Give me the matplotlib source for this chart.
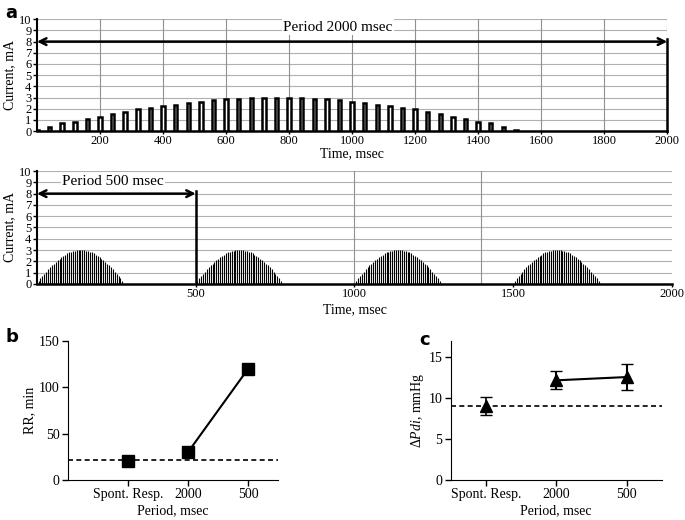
import matplotlib
matplotlib.use("Agg")
import matplotlib.pyplot as plt
import numpy as np

plt.rcParams['font.family'] = ['Liberation Serif', 'DejaVu Serif']
plt.rcParams['mathtext.fontset'] = 'custom'
plt.rcParams['mathtext.rm'] = 'Liberation Serif'
plt.rcParams['mathtext.it'] = 'Liberation Serif:italic'

# ---- data ----
# panel a, top: pulses every 40 ms (period 2000 msec)
top_times = [0, 40, 80, 120, 160, 200, 240, 280, 320, 360, 400, 440, 480, 520, 560, 600,
             640, 680, 720, 760, 800, 840, 880, 920, 960, 1000, 1040, 1080, 1120, 1160,
             1200, 1240, 1280, 1320, 1360, 1400, 1440, 1480, 1520]
top_heights = [0.1, 0.4, 0.7, 0.85, 1.1, 1.3, 1.55, 1.7, 1.95, 2.1, 2.25, 2.35, 2.55, 2.6,
               2.75, 2.85, 2.9, 2.95, 3.0, 3.0, 3.0, 2.95, 2.9, 2.85, 2.75, 2.6, 2.55, 2.35,
               2.25, 2.1, 1.95, 1.7, 1.55, 1.3, 1.1, 0.85, 0.7, 0.4, 0.1]
top_xticks = [200, 400, 600, 800, 1000, 1200, 1400, 1600, 1800, 2000]

# panel a, bottom: bursts every 500 ms, pulses every 6 ms within burst
burst_starts = [0, 500, 1000, 1500]
burst_offsets = [5, 11, 17, 23, 29, 35, 41, 47, 53, 59, 65, 71, 77, 83, 89, 95, 101, 107,
                 113, 119, 125, 131, 137, 143, 149, 155, 161, 167, 173, 179, 185, 191, 197,
                 203, 209, 215, 221, 227, 233, 239, 245, 251, 257, 263, 269]
burst_heights = [0.3, 0.5, 0.7, 0.9, 1.1, 1.3, 1.5, 1.65, 1.8, 1.95, 2.1, 2.25, 2.4, 2.5,
                 2.6, 2.7, 2.8, 2.85, 2.9, 2.95, 3.0, 3.0, 3.0, 3.0, 3.0, 2.95, 2.9, 2.85,
                 2.8, 2.7, 2.6, 2.5, 2.4, 2.25, 2.1, 1.95, 1.8, 1.65, 1.5, 1.3, 1.1, 0.9,
                 0.7, 0.5, 0.3]
bottom_xticks = [500, 1000, 1500, 2000]

# panels b and c
categories = ['Spont. Resp.', '2000', '500']
rr_vals = [21, 30, 120]
rr_err = [5, 0, 0]
rr_baseline = 22
pdi_vals = [9.1, 12.2, 12.6]
pdi_err = [1.1, 1.1, 1.55]
pdi_baseline = 9.1

fig = plt.figure(figsize=(6.85, 5.2), dpi=100)

def style_current_axis(ax, xticks, vgrid):
    ax.set_xlim(0, 2000)
    ax.set_ylim(0, 10)
    ax.set_yticks(range(0, 11))
    ax.set_xticks(xticks)
    ax.tick_params(axis='both', labelsize=9, length=3, width=1, pad=1)
    ax.tick_params(axis='x', length=2)
    for y in range(1, 11):
        ax.axhline(y, color='#b0b0b0', lw=0.8, zorder=0)
    for x in vgrid:
        ax.axvline(x, color='#909090', lw=0.8, zorder=0)
    for s in ['top', 'right']:
        ax.spines[s].set_visible(False)
    ax.spines['left'].set_linewidth(1.5)
    ax.spines['bottom'].set_linewidth(1.8)
    ax.set_ylabel('Current, mA', fontsize=10, labelpad=2)
    ax.set_xlabel('Time, msec', fontsize=10, labelpad=0)

# ---- panel a top ----
ax1 = fig.add_axes([0.054, 0.748, 0.920, 0.215])
style_current_axis(ax1, top_xticks, top_xticks)
ax1.bar(top_times, top_heights, width=11, facecolor='white', edgecolor='black',
        linewidth=1.8, zorder=3, align='center')
ax1.annotate('', xy=(2000, 8), xytext=(0, 8),
             arrowprops=dict(arrowstyle='<->', lw=1.8, color='black',
                             shrinkA=0, shrinkB=0, mutation_scale=12), zorder=4)
ax1.plot([2000, 2000], [0, 8.2], color='black', lw=1.8, clip_on=False, zorder=4)
ax1.text(955, 9.3, 'Period 2000 msec', ha='center', va='center', fontsize=11,
         bbox=dict(facecolor='white', edgecolor='none', pad=1), zorder=5)
ax1.xaxis.set_label_coords(0.5, -0.14)

# ---- panel a bottom ----
ax2 = fig.add_axes([0.054, 0.454, 0.927, 0.217])
style_current_axis(ax2, bottom_xticks, [1000, 1400])
for b in burst_starts:
    xs = [b + o for o in burst_offsets]
    ax2.vlines(xs, 0, burst_heights, color='black', lw=0.8, zorder=3)
ax2.annotate('', xy=(500, 8), xytext=(0, 8),
             arrowprops=dict(arrowstyle='<->', lw=1.8, color='black',
                             shrinkA=0, shrinkB=0, mutation_scale=12), zorder=4)
ax2.plot([500, 500], [0, 8.2], color='black', lw=1.8, zorder=4)
ax2.text(240, 9.1, 'Period 500 msec', ha='center', va='center', fontsize=11,
         bbox=dict(facecolor='white', edgecolor='none', pad=1), zorder=5)
ax2.xaxis.set_label_coords(0.5, -0.17)

fig.text(0.008, 0.975, 'a', fontsize=13, fontweight='bold', family='DejaVu Sans',
         va='center')

xpos = np.arange(len(categories))

# ---- panel b ----
ax3 = fig.add_axes([0.099, 0.077, 0.307, 0.267])
ax3.set_xlim(-1, 2.5)
ax3.set_ylim(0, 150)
ax3.set_yticks([0, 50, 100, 150])
ax3.axhline(rr_baseline, color='black', lw=1.2, ls=(0, (3, 2)), zorder=1)
ax3.errorbar(xpos[0], rr_vals[0], yerr=rr_err[0], fmt='s', color='black', ms=8,
             capsize=3, lw=1.2, zorder=3)
ax3.plot(xpos[1:], rr_vals[1:], '-s', color='black', ms=8, lw=1.5, zorder=3)
ax3.set_xticks(xpos)
ax3.set_xticklabels(categories)
ax3.set_ylabel('RR, min', fontsize=10, labelpad=2)
ax3.set_xlabel('Period, msec', fontsize=10, labelpad=2)
ax3.tick_params(labelsize=10, length=4, width=1, pad=2)
for s in ['top', 'right']:
    ax3.spines[s].set_visible(False)
fig.text(0.008, 0.352, 'b', fontsize=13, fontweight='bold', family='DejaVu Sans',
         va='center')

# ---- panel c ----
ax4 = fig.add_axes([0.658, 0.077, 0.308, 0.267])
ax4.set_xlim(-0.5, 2.5)
ax4.set_ylim(0, 17)
ax4.set_yticks([0, 5, 10, 15])
ax4.axhline(pdi_baseline, color='black', lw=1.2, ls=(0, (3, 2)), zorder=1)
ax4.errorbar(xpos[0], pdi_vals[0], yerr=pdi_err[0], fmt='^', color='black', ms=8,
             capsize=4, lw=1.2, zorder=3)
ax4.errorbar(xpos[1:], pdi_vals[1:], yerr=pdi_err[1:], fmt='-^', color='black', ms=8,
             capsize=4, lw=1.5, zorder=3)
ax4.set_xticks(xpos)
ax4.set_xticklabels(categories)
ax4.set_ylabel(r'$\Delta \mathit{Pdi}$, mmHg', fontsize=10, labelpad=2)
ax4.set_xlabel('Period, msec', fontsize=10, labelpad=2)
ax4.tick_params(labelsize=10, length=4, width=1, pad=2)
for s in ['top', 'right']:
    ax4.spines[s].set_visible(False)
fig.text(0.612, 0.347, 'c', fontsize=13, fontweight='bold', family='DejaVu Sans',
         va='center')

fig.savefig('out.png', dpi=100)
